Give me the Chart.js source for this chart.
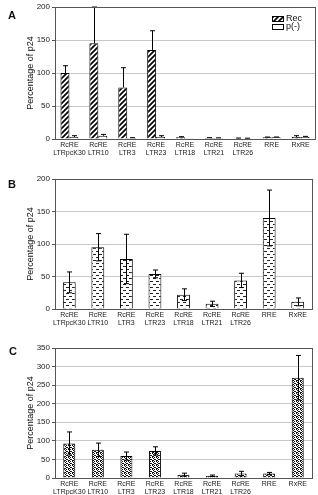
<!DOCTYPE html>
<html><head><meta charset="utf-8">
<script src="https://cdn.jsdelivr.net/npm/chart.js@4"></script>
<style>
body{margin:0;background:#fff;width:318px;height:495px;position:relative;overflow:hidden;font-family:"Liberation Sans",Arial,sans-serif}
.p{position:absolute;left:0;width:318px}
.lab{position:absolute;font-weight:bold;font-size:11px;color:#111}
</style></head><body>
<div class="p" style="top:0;height:165px"><canvas id="cA" width="318" height="165"></canvas></div>
<div class="p" style="top:160px;height:170px"><canvas id="cB" width="318" height="170"></canvas></div>
<div class="p" style="top:325px;height:170px"><canvas id="cC" width="318" height="170"></canvas></div>
<div class="lab" style="left:8px;top:9px">A</div>
<div class="lab" style="left:8px;top:178px">B</div>
<div class="lab" style="left:9px;top:345px">C</div>
<script>
const categories = [['RcRE','LTRpcK30'],['RcRE','LTR10'],['RcRE','LTR3'],['RcRE','LTR23'],['RcRE','LTR18'],['RcRE','LTR21'],['RcRE','LTR26'],['RRE',''],['RxRE','']];
const recValues = [100,145,78,135,2.5,1.5,1,2.5,3];
const recErr    = [11,55,30,29,1,0.5,0.5,0.5,2];
const pValues   = [3,5,1.5,3,0.5,1.5,1,2.5,3];
const pErr      = [2,2,0.5,2,0,0.3,0.3,0.5,1];
const revValues = [41,95,77,54,22,8,44,140,11];
const revErr    = [16,21,38,6,9,4,11,43,6];
const rexValues = [93,76,59,73,9,6,12,12,270];
const rexErr    = [31,18,11,11,4,2,6,3,60];
const ticksA = [0,50,100,150,200];
const ticksB = [0,50,100,150,200];
const ticksC = [0,50,100,150,200,250,300,350];

function makePattern(w,h,draw){
  const c=document.createElement('canvas');c.width=w;c.height=h;
  const x=c.getContext('2d');x.fillStyle='#fff';x.fillRect(0,0,w,h);x.fillStyle='#000';x.strokeStyle='#000';draw(x);
  return document.createElement('canvas').getContext('2d').createPattern(c,'repeat');
}
const hatch = makePattern(5,5,x=>{x.lineWidth=1.7;x.beginPath();x.moveTo(-1,6);x.lineTo(6,-1);x.moveTo(-2,2);x.lineTo(2,-2);x.moveTo(3,7);x.lineTo(7,3);x.stroke();});
const dashes = makePattern(6,6,x=>{x.fillStyle='#222';x.fillRect(0,1,3,1);x.fillRect(3,4,3,1);});
const waves = makePattern(4,4,x=>{x.fillStyle='#111';[[0,0],[2,0],[1,1],[3,2],[0,3],[2,2],[1,3]].forEach(p=>x.fillRect(p[0],p[1],1,1));});

const errPlugin={id:'errbars',afterDatasetsDraw(chart,args,opts){
  const ctx=chart.ctx,ys=chart.scales.y;ctx.save();ctx.strokeStyle='#000';ctx.lineWidth=1;
  chart.data.datasets.forEach((ds,i)=>{
    if(!ds.err)return;const meta=chart.getDatasetMeta(i);
    meta.data.forEach((bar,j)=>{
      const v=ds.data[j],e=ds.err[j];if(!e)return;
      const x=Math.round(bar.x)+0.5;const yT=ys.getPixelForValue(v+e);const yB=ds.upOnly?ys.getPixelForValue(v):ys.getPixelForValue(Math.max(0,v-e));
      const cap=2.5;
      ctx.beginPath();ctx.moveTo(x,yB);ctx.lineTo(x,yT);ctx.moveTo(x-cap,yT);ctx.lineTo(x+cap,yT);
      if(!ds.upOnly){ctx.moveTo(x-cap,yB);ctx.lineTo(x+cap,yB);}
      ctx.stroke();
    });
  });ctx.restore();
}};
const framePlugin={id:'frame',afterDraw(chart,args,opts){
  const a=chart.chartArea,ctx=chart.ctx;ctx.save();ctx.strokeStyle='#555';ctx.lineWidth=1;
  ctx.strokeRect(Math.round(a.left)+0.5,Math.round(a.top)+0.5,Math.round(a.right-a.left),Math.round(a.bottom-a.top));
  const L=opts.legend;if(L){
    ctx.font='9px "Liberation Sans", Arial, sans-serif';ctx.textBaseline='middle';
    chart.data.datasets.forEach((ds,i)=>{
      const y=L.y+i*L.dy;ctx.fillStyle=ds.backgroundColor;ctx.fillRect(L.x,y-2.5,11,5);
      ctx.strokeStyle='#000';ctx.strokeRect(L.x+0.5,y-2.5,11,5);
      ctx.fillStyle='#111';ctx.fillText(ds.label,L.x+14,y);
    });
  }
  ctx.restore();
}};

function build(id,datasets,ticks,max,catPct,pad,legend){
  new Chart(document.getElementById(id),{
    type:'bar',
    data:{labels:categories,datasets:datasets},
    options:{
      responsive:false,animation:false,
      layout:{padding:{top:pad.top,right:pad.right,left:0,bottom:pad.bottom}},
      categoryPercentage:catPct,barPercentage:1,
      plugins:{legend:{display:false},tooltip:{enabled:false},frame:{legend:legend}},
      scales:{
        x:{grid:{display:false,drawTicks:false},border:{display:false},
           ticks:{color:'#222',font:{size:7,lineHeight:1.15,family:'"Liberation Sans", Arial, sans-serif'},padding:2,maxRotation:0,autoSkip:false},
           afterFit:s=>{s.height=20}},
        y:{min:0,max:max,afterBuildTicks:s=>{s.ticks=ticks.map(v=>({value:v}))},
           grid:{color:'#c8c8c8',tickLength:3,tickColor:'#555'},border:{display:false},
           ticks:{color:'#222',font:{size:8,family:'"Liberation Sans", Arial, sans-serif'},padding:2},
           title:{display:true,text:'Percentage of p24',color:'#111',font:{size:9,family:'"Liberation Sans", Arial, sans-serif'},padding:{top:25,bottom:0}},
           afterFit:s=>{s.width=55}}
      }
    },
    plugins:[errPlugin,framePlugin]
  });
}
build('cA',[
  {label:'Rec',data:recValues,err:recErr,upOnly:true,backgroundColor:hatch,borderColor:'#000',borderWidth:1},
  {label:'p(-)',data:pValues,err:pErr,upOnly:true,backgroundColor:'#fff',borderColor:'#000',borderWidth:1}
],ticksA,200,0.62,{top:7,right:3,bottom:6},{x:272,y:19,dy:8});
build('cB',[
  {label:'Rev',data:revValues,err:revErr,backgroundColor:dashes,borderColor:'#000',borderWidth:1}
],ticksB,200,0.45,{top:19,right:6,bottom:1},{x:277,y:39});
build('cC',[
  {label:'Rex',data:rexValues,err:rexErr,backgroundColor:waves,borderColor:'#000',borderWidth:1}
],ticksC,350,0.42,{top:23,right:6,bottom:-3},{x:258,y:35});
</script>
</body></html>
